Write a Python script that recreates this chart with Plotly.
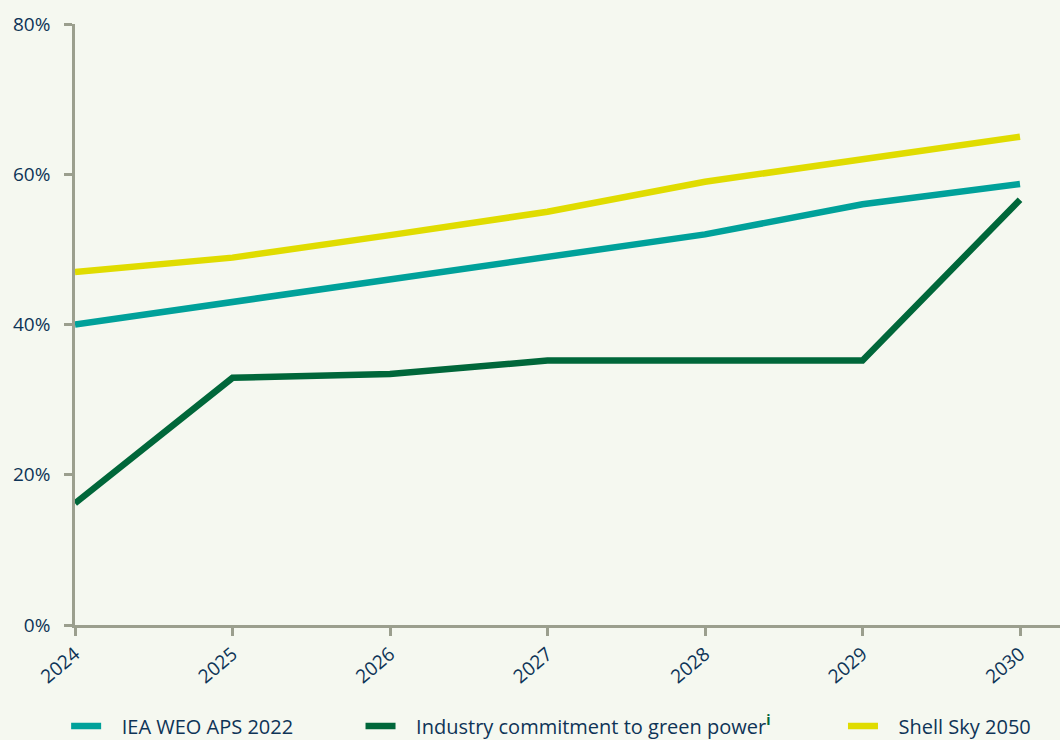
import plotly.graph_objects as go

years = ["2024", "2025", "2026", "2027", "2028", "2029", "2030"]
year_nums = [2024, 2025, 2026, 2027, 2028, 2029, 2030]
iea = [40.0, 43.0, 46.0, 49.0, 52.0, 56.0, 58.7]
industry = [16.2, 32.9, 33.4, 35.2, 35.2, 35.2, 56.6]
shell = [47.0, 48.9, 51.9, 55.0, 59.0, 62.1, 65.0]
y_ticks = [0, 20, 40, 60, 80]
y_tick_labels = ["0%", "20%", "40%", "60%", "80%"]

TEXT = "#0E3457"
AXIS = "#9B9F8E"
BG = "#F5F8F0"
FONT = "Open Sans"
SP = "\u00a0"

fig = go.Figure()
series = [
    (SP * 3 + "IEA WEO APS 2022" + SP * 12, iea, "#00A19A"),
    (SP * 3 + "Industry commitment to green power<sup><b><span style='color:#00673A'>i</span></b></sup>" + SP * 13, industry, "#00673A"),
    (SP * 3 + "Shell Sky 2050", shell, "#E0DC00"),
]
for name, vals, col in series:
    fig.add_trace(go.Scatter(
        x=year_nums,
        y=[v / 100 for v in vals],
        mode="lines",
        name=name,
        line=dict(color=col, width=6.5, shape="linear"),
        cliponaxis=False,
    ))

fig.update_layout(
    width=1060, height=740,
    paper_bgcolor=BG, plot_bgcolor=BG,
    margin=dict(l=75, r=0, t=24, b=115, autoexpand=False),
    font=dict(family=FONT, color=TEXT, size=19),
    showlegend=True,
    legend=dict(
        orientation="h", x=-0.009, xanchor="left", y=-0.168, yanchor="middle",
        font=dict(size=20, color=TEXT), bgcolor="rgba(0,0,0,0)",
        itemwidth=30, tracegroupgap=0,
    ),
    xaxis=dict(
        range=[2024, 2030.254],
        tickmode="array", tickvals=year_nums, ticktext=years,
        tickangle=-40,
        showgrid=False, zeroline=False,
        showline=True, linecolor=AXIS, linewidth=2.5,
        ticks="outside", ticklen=8, tickwidth=2.5, tickcolor=AXIS,
        tickfont=dict(size=19, color=TEXT),
    ),
    yaxis=dict(
        range=[0, 0.8],
        tickmode="array", tickvals=[t / 100 for t in y_ticks], ticktext=y_tick_labels,
        showgrid=False, zeroline=False,
        showline=True, linecolor=AXIS, linewidth=2.5,
        ticks="outside", ticklen=8, tickwidth=2.5, tickcolor=AXIS,
        tickfont=dict(size=19, color=TEXT),
        ticklabelstandoff=10,
    ),
)

fig.write_html("out.html")
